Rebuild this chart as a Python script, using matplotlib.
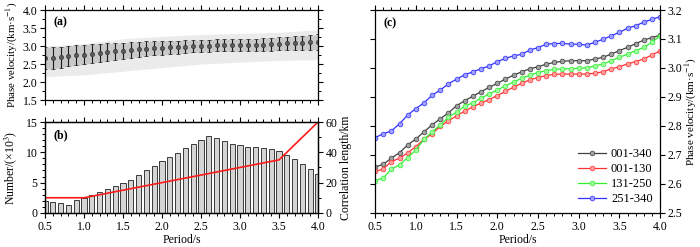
import matplotlib
matplotlib.use('Agg')
import matplotlib.pyplot as plt
import numpy as np
from matplotlib.ticker import MultipleLocator

plt.rcParams['font.family'] = ['Liberation Serif', 'DejaVu Serif']
plt.rcParams['mathtext.fontset'] = 'stix'
plt.rcParams['font.size'] = 8.5

# periods (s)
period = np.round(np.arange(0.5, 4.01, 0.1), 1)

# (a) mean phase velocity and standard deviation of all paths
vel_mean = [2.66, 2.67, 2.69, 2.72, 2.74, 2.76, 2.79, 2.81, 2.83, 2.85, 2.87, 2.89,
            2.91, 2.93, 2.94, 2.95, 2.96, 2.97, 2.98, 2.99, 3.00, 3.01, 3.02, 3.02,
            3.02, 3.03, 3.03, 3.03, 3.04, 3.05, 3.06, 3.07, 3.08, 3.09, 3.10, 3.11]
vel_std = [0.30, 0.30, 0.29, 0.28, 0.28, 0.27, 0.26, 0.25, 0.24, 0.23, 0.22, 0.21,
           0.21, 0.20, 0.20, 0.19, 0.19, 0.18, 0.18, 0.17, 0.17, 0.17, 0.17, 0.17,
           0.17, 0.17, 0.17, 0.17, 0.18, 0.18, 0.18, 0.19, 0.19, 0.20, 0.20, 0.21]
# envelope of the individual dispersion curves
env_period = [0.5, 1.0, 1.5, 2.0, 2.5, 3.0, 3.5, 4.0]
env_top = [3.00, 3.06, 3.20, 3.27, 3.32, 3.35, 3.38, 3.45]
env_bot = [2.15, 2.20, 2.30, 2.40, 2.50, 2.55, 2.60, 2.62]

# (b) number of paths (x10^3) and correlation length (km)
n_paths = [1.92, 1.81, 1.65, 1.37, 2.20, 2.47, 3.02, 3.46, 4.01, 4.51, 4.95, 5.49,
           6.26, 7.14, 7.80, 8.52, 9.18, 9.84, 10.66, 11.32, 11.98, 12.69, 12.30, 11.87,
           11.43, 11.15, 10.93, 10.88, 10.71, 10.55, 10.16, 9.50, 8.90, 8.08, 7.25, 6.43]
corr_period = [0.5, 1.0, 3.5, 4.0]
corr_len = [10, 10, 35, 60]

# (c) average dispersion curves of station groups
vel_001_340 = [2.658, 2.668, 2.689, 2.708, 2.735, 2.755, 2.780, 2.804, 2.825, 2.845, 2.870, 2.887,
               2.903, 2.918, 2.933, 2.947, 2.962, 2.975, 2.987, 2.997, 3.004, 3.013, 3.019, 3.023,
               3.025, 3.025, 3.025, 3.031, 3.037, 3.048, 3.060, 3.071, 3.084, 3.096, 3.105, 3.113]
vel_001_130 = [2.643, 2.652, 2.677, 2.689, 2.707, 2.729, 2.754, 2.773, 2.799, 2.818, 2.835, 2.851,
               2.866, 2.879, 2.891, 2.905, 2.919, 2.934, 2.947, 2.959, 2.967, 2.974, 2.978, 2.979,
               2.979, 2.979, 2.979, 2.982, 2.987, 2.997, 3.004, 3.014, 3.022, 3.031, 3.045, 3.059]
vel_131_250 = [2.611, 2.621, 2.651, 2.666, 2.691, 2.717, 2.754, 2.779, 2.804, 2.830, 2.848, 2.868,
               2.880, 2.896, 2.910, 2.924, 2.938, 2.952, 2.964, 2.976, 2.984, 2.991, 2.995, 2.997,
               2.997, 2.999, 3.001, 3.007, 3.014, 3.025, 3.037, 3.048, 3.060, 3.071, 3.089, 3.111]
vel_251_340 = [2.760, 2.773, 2.783, 2.808, 2.838, 2.860, 2.880, 2.906, 2.924, 2.945, 2.962, 2.976,
               2.987, 2.997, 3.007, 3.022, 3.033, 3.042, 3.047, 3.062, 3.070, 3.082, 3.084, 3.085,
               3.082, 3.082, 3.079, 3.089, 3.099, 3.111, 3.123, 3.137, 3.146, 3.158, 3.168, 3.177]
groups = ['001-340', '001-130', '131-250', '251-340']
group_colors = ['#404040', '#ff3030', '#30ee30', '#3030ff']
group_faces = ['#a0a0a0', '#ffa0a0', '#a0ffa0', '#a0a0ff']
group_vels = [vel_001_340, vel_001_130, vel_131_250, vel_251_340]


def style_axis(ax):
    for s in ax.spines.values():
        s.set_linewidth(0.9)
    ax.tick_params(which='both', direction='out', top=True, right=True, labelsize=8.5, pad=2)
    ax.tick_params(which='major', length=3.5, width=0.8)
    ax.tick_params(which='minor', length=2, width=0.7)
    ax.xaxis.set_major_locator(MultipleLocator(0.5))
    ax.xaxis.set_minor_locator(MultipleLocator(0.1))
    ax.set_xlim(0.5, 4.0)


fig = plt.figure(figsize=(7, 2.47), dpi=100)
ax_a = fig.add_axes([0.0643, 0.595, 0.39, 0.3645])
ax_b = fig.add_axes([0.0643, 0.138, 0.39, 0.368])
ax_c = fig.add_axes([0.536, 0.138, 0.407, 0.8215])

# (a)
ax_a.fill_between(env_period, env_bot, env_top, color='#ebebeb', lw=0)
ax_a.fill_between(period, np.array(vel_mean) - np.array(vel_std),
                  np.array(vel_mean) + np.array(vel_std), color='#c8c8c8', lw=0)
ax_a.errorbar(period, vel_mean, yerr=vel_std, fmt='o', ms=3, mfc='#5a5a5a', mec='#3a3a3a',
              mew=0.5, ecolor='#1a1a1a', elinewidth=0.8, capsize=1.5, capthick=0.8)
style_axis(ax_a)
ax_a.set_ylim(1.5, 4.0)
ax_a.yaxis.set_major_locator(MultipleLocator(0.5))
ax_a.yaxis.set_minor_locator(MultipleLocator(0.25))
ax_a.yaxis.set_major_formatter(lambda v, p: f'{v:.1f}')
ax_a.tick_params(labelbottom=False)
ax_a.set_ylabel('Phase velocity/(km·s$^{-1}$)', labelpad=2, fontsize=7.8)
ax_a.text(0.03, 0.93, '(a)', transform=ax_a.transAxes, fontweight='bold', va='top')

# (b)
ax_b.bar(period, n_paths, width=0.065, color='#d4d4d4', edgecolor='#3a3a3a', linewidth=0.7)
style_axis(ax_b)
ax_b.tick_params(right=False)
ax_b.set_ylim(0, 15)
ax_b.yaxis.set_major_locator(MultipleLocator(5))
ax_b.yaxis.set_minor_locator(MultipleLocator(1))
ax_b.xaxis.set_major_formatter(lambda v, p: f'{v:.1f}')
ax_b.set_xlabel('Period/s', labelpad=1)
ax_b.set_ylabel('Number/(×10$^3$)', labelpad=5)
ax_b.text(0.03, 0.92, '(b)', transform=ax_b.transAxes, fontweight='bold', va='top')

ax_b2 = ax_b.twinx()
ax_b2.plot(corr_period, corr_len, color='#ff1a1a', lw=1.2)
ax_b2.set_ylim(0, 60)
ax_b2.yaxis.set_major_locator(MultipleLocator(20))
ax_b2.yaxis.set_minor_locator(MultipleLocator(10))
ax_b2.tick_params(which='both', direction='out', labelsize=8.5, pad=2)
ax_b2.tick_params(which='major', length=3.5, width=0.8)
ax_b2.tick_params(which='minor', length=2, width=0.7)
for s in ax_b2.spines.values():
    s.set_linewidth(0.9)
ax_b2.set_ylabel('Correlation length/km', labelpad=2)

# (c)
for name, col, face, vel in zip(groups, group_colors, group_faces, group_vels):
    ax_c.plot(period, vel, color=col, lw=0.9, marker='o', ms=3.4,
              mfc=face, mec=col, mew=0.5, label=name)
style_axis(ax_c)
ax_c.set_ylim(2.5, 3.2)
ax_c.yaxis.set_major_locator(MultipleLocator(0.1))
ax_c.yaxis.set_minor_locator(MultipleLocator(0.1))
ax_c.xaxis.set_major_formatter(lambda v, p: f'{v:.1f}')
ax_c.tick_params(labelleft=False, labelright=True)
ax_c.yaxis.set_label_position('right')
ax_c.set_ylabel('Phase velocity/(km·s$^{-1}$)', labelpad=1, fontsize=8)
ax_c.set_xlabel('Period/s', labelpad=1)
ax_c.text(0.03, 0.965, '(c)', transform=ax_c.transAxes, fontweight='bold', va='top')
ax_c.legend(loc='lower right', frameon=False, fontsize=9, handlelength=2.2,
            handletextpad=0.4, labelspacing=0.25, borderaxespad=0.2)

fig.savefig('out.png', dpi=100)
